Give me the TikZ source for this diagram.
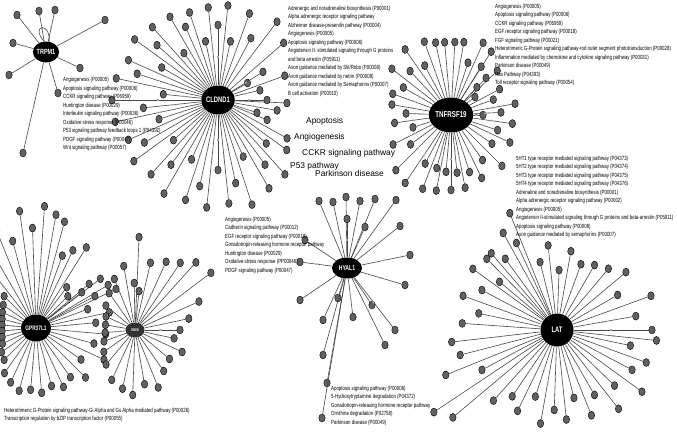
\documentclass[tikz,border=0pt]{standalone}
\usepackage{fontspec}
\setmainfont{Liberation Sans}
\newfontfamily\narrowfont[FakeStretch=0.73]{Liberation Sans}
\usetikzlibrary{calc,shapes.geometric}
\tikzset{
 leaf/.style={ellipse, draw=black, line width=0.4pt, fill=black!62, minimum width=6.5pt, minimum height=8pt, inner sep=0pt},
 spoke/.style={draw=black!72, line width=0.6pt},
 midmark/.style={rectangle, fill=black!35, minimum width=2.4pt, minimum height=1.4pt, inner sep=0pt, sloped},
 hub/.style={ellipse, fill=black, text=white, inner sep=0pt},
 info/.style={anchor=north west, inner sep=0pt, align=left, font=\narrowfont\fontsize{6}{8.5}\selectfont},
 big/.style={anchor=mid west, inner sep=0pt, font=\fontsize{8.4}{10}\selectfont},
}
\newcommand\fanpolar[2]{%
 \foreach \a/\r [count=\k] in {#2} {
  \node[leaf] (#1-\k) at ($(#1)+(-\a:\r)$) {};
  \draw[spoke] (#1) -- node[midmark] (#1-m\k) {} (#1-\k);
 }}
\newcommand\fanxy[2]{%
 \foreach \px/\py [count=\k] in {#2} {
  \node[leaf] (#1-\k) at (\px,\py) {};
  \draw[spoke] (#1) -- node[midmark] (#1-m\k) {} (#1-\k);
 }}
\begin{document}
\begin{tikzpicture}[x=1pt,y=-1pt]
\useasboundingbox (0,0) rectangle (677,431);
\fill[white] (0,0) rectangle (677,431);
% hubs
\node[hub, minimum width=23pt, minimum height=21pt, font=\narrowfont\bfseries\fontsize{7.5}{8}\selectfont] (trpm) at (46,52) {TRPM1};
\node[hub, minimum size=29pt, font=\narrowfont\bfseries\fontsize{8}{9}\selectfont] (cldnd) at (218,100) {CLDND1};
\node[hub, minimum width=38pt, minimum height=35pt, font=\narrowfont\bfseries\fontsize{8.5}{9}\selectfont] (tnf) at (451,115) {TNFRSF19};
\node[hub, minimum width=29pt, minimum height=27pt, font=\narrowfont\bfseries\fontsize{6.5}{7}\selectfont] (gpr) at (36,328) {GPR37L1};
\node[hub, minimum width=19pt, minimum height=15pt, fill=black!80, font=\narrowfont\bfseries\fontsize{4}{5}\selectfont] (snx) at (135,330) {SNX8};
\node[hub, minimum width=30pt, minimum height=21pt, font=\narrowfont\bfseries\fontsize{7}{8}\selectfont] (hyal) at (347,268) {HYAL1};
\node[hub, minimum size=33pt, font=\narrowfont\bfseries\fontsize{8}{9}\selectfont] (lat) at (557,330) {LAT};

% spokes
\fanxy{trpm}{17/15,39/11,55/10,105/20,13/43,9/75,80/68,58/93,23/153}
\draw[spoke] (trpm.100) .. controls (30,26) and (50,20) .. (trpm.72);

\fanpolar{cldnd}{357.5/69,0/49,13/43,20/71,30/34,32/53,41/87,53/98,62/70,70/92,78/60,84/95,90/75,96/93,102/60,108/92,114/80,120/96,126/58,132/98,138/82,144/103,150/65,156/98,162/85,168/104,174/55,180/106,186/75,192/105,198/62,204/98,210/85,216/104,222/60,228/100,234/80,240/108,246/65,252/105,258/88,264/108,270/70,276/104,282/85,288/110,294/62,300/102,306/80,312/100,318/65,324/85,331/79,338/53,342/41,350/60}

\fanpolar{tnf}{342/49,352/62,0/32,3/50,10/65,20/45,28/55,37/30,43.7/64,46.6/51,47/38,57.6/75,58/57,66/79,72/55,80/74,87/73,95/73,102/74,110/78,118/56,125/80,133/60,142/75,150/55,160/62,170/60,178/45,188/57,198/40,207/65,216/50,225/78,236/82,242/55,249/79,255/55,259/77,265/57,270/75,276/58,281/74,288/60,296/70,305/55,315/72,325/50,335/65}

\fanpolar{gpr}{5/60,12/75,20/55,26/89,28.5/67,30.8/84,37.4/81,38/58,39.7/69,45/45,53/51,58/95,64.6/86,70/77,75/110,80/115,86/122,92/100,98/118,105/90,112/105,120/80,128/95,135/45,145/40,155/37,165/35,175/34,185/34,195/35,205/37,215/42,225/45,235/55,245/60,255/65,265/62,275/65,285/60,295/65,305/60,315/70,325/55,335/75,345/60,355/70}

\fanpolar{snx}{0/45,12/55,24/70,37/95,48/91,56/81,65.5/75,77/69,84/39,87.5/93,91/47,100/65,112/55,125/45,140/38,155/32,170/30,185/30,200/33,215/38,230/45,245/55,258/60,268/65,280/55,292/62,305/50,320/45,335/52,348/40}

\fanxy{hyal}{319/201,333/202,346/197,360/201,375/199,396/200,347/219,365/227,400/226,300/262,305/240,323/320,338/298,353/317,372/305,395/330,385/345,405/285,410/255,323/355,327/383,322/418,300/300}

\fanpolar{lat}{0/95,10/80,20/100,30/70,40/90,50/80,60/75,70/70,80/80,88/60,96/85,104/70,112/126,115/96,119/111,126/88,130.6/101,134.6/100,140/75,144/104,152/85,160/100,168/80,176/95,186.5/106,194.5/100,202/120,208/85,213.7/148,220/136,228/95,236/80,244/90,252/70,260/95,268/80,276/90,284/70,292/92,300/75,308/100,316/80,324/105,332/85,340/95,348/75,354/100}

% text blocks
\node[info] (t-trpm) at (63,77) {Angiogenesis (P00005)\\Apoptosis signaling pathway (P00006)\\CCKR signaling pathway (P06959)\\Huntington disease (P00029)\\Interleukin signaling pathway (P00036)\\Oxidative stress response (P00046)\\P53 signaling pathway feedback loops 1 (P04392)\\PDGF signaling pathway (P00047)\\Wnt signaling pathway (P00057)};
\node[info] (t-cldnd) at (288,5.5) {Adrenergic and noradrenaline biosynthesis (P00001)\\Alpha adrenergic receptor signaling pathway\\Alzheimer disease-presenilin pathway (P00004)\\Angiogenesis (P00005)\\Apoptosis signaling pathway (P00006)\\Angiotensin II- stimulated signaling through G proteins\\and beta arrestin (P05911)\\Axon guidance mediated by Slit/Robo (P00008)\\Axon guidance mediated by netrin (P00009)\\Axon guidance mediated by Semaphorins (P00007)\\B cell activation (P00010)};
\node[info] (t-tnf) at (495,3.5) {Angiogenesis (P00005)\\Apoptosis signaling pathway (P00006)\\CCKR signaling pathway (P06959)\\EGF receptor signaling pathway (P00018)\\FGF signaling pathway (P00021)\\Heterotrimeric G-Protein signaling pathway-rod outer segment phototransduction (P00028)\\Inflammation mediated by chemokine and cytokine signaling pathway (P00031)\\Parkinson disease (P00049)\\Ras Pathway (P04393)\\Toll receptor signaling pathway (P00054)};
\node[info] (t-lat) at (516,155.5) {5HT1 type receptor mediated signaling pathway (P04373)\\5HT2 type receptor mediated signaling pathway (P04374)\\5HT3 type receptor mediated signaling pathway (P04375)\\5HT4 type receptor mediated signaling pathway (P04376)\\Adrenaline and noradrenaline biosynthesis (P00001)\\Alpha adrenergic receptor signaling pathway (P00002)\\Angiogenesis (P00005)\\Angiotensin II-stimulated signaling through G proteins and beta-arrestin (P05911)\\Apoptosis signaling pathway (P00006)\\Axon guidance mediated by semaphorins (P00007)};
\node[info] (t-snx) at (225,216.5) {Angiogenesis (P00005)\\Cadherin signaling pathway (P00012)\\EGF receptor signaling pathway (P00018)\\Gonadotropin-releasing hormone receptor pathway\\Huntington disease (P00029)\\Oxidative stress response (PP00046)\\PDGF signaling pathway (P00047)};
\node[info] (t-hyal) at (331,385.5) {Apoptosis signaling pathway (P00006)\\5-Hydroxytryptamine degradation (P04372)\\Gonadotropin-releasing hormone receptor pathway\\Ornithine degradation (P02758)\\Parkinson disease (P00049)};
\node[info] (t-gpr) at (4,407.5) {Heterotrimeric G-Protein signaling pathway-Gi Alpha and Gs Alpha mediated pathway (P00026)\\Transcription regulation by bZIP transcription factor (P00055)};

% shared labels
\node[big] (l1) at (306,121) {Apoptosis};
\node[big] (l2) at (294,137) {Angiogenesis};
\node[big] (l3) at (302,152.5) {CCKR signaling pathway};
\node[big] (l4) at (290,166) {P53 pathway};
\node[big] (l5) at (315,174) {Parkinson disease};
\end{tikzpicture}
\end{document}
